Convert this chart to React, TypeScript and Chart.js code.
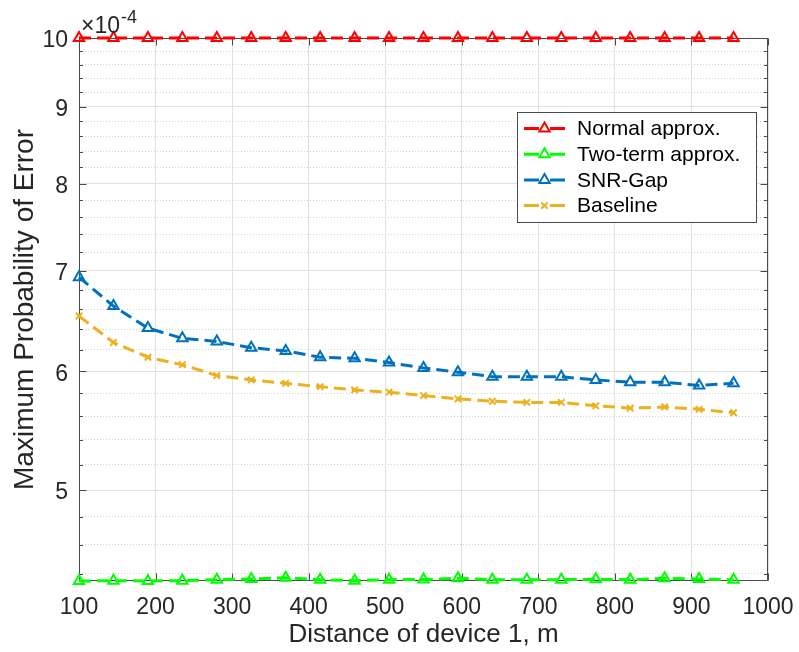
import React, { useEffect, useRef } from 'react';
import { Chart, registerables } from 'chart.js';

Chart.register(...registerables);

// Distance of device 1 (m)
const distances = [100, 145, 190, 235, 280, 325, 370, 415, 460, 505, 550, 595, 640, 685, 730, 775, 820, 865, 910, 955];
// Maximum probability of error, in units of 1e-4
const normalApprox = [10, 10, 10, 10, 10, 10, 10, 10, 10, 10, 10, 10, 10, 10, 10, 10, 10, 10, 10, 10];
const twoTermApprox = [4.350, 4.352, 4.350, 4.352, 4.359, 4.363, 4.372, 4.359, 4.352, 4.359, 4.360, 4.368, 4.359, 4.359, 4.359, 4.361, 4.359, 4.368, 4.363, 4.359];
const snrGap = [6.93, 6.63, 6.41, 6.31, 6.28, 6.22, 6.19, 6.13, 6.12, 6.08, 6.03, 5.99, 5.95, 5.95, 5.95, 5.92, 5.90, 5.90, 5.87, 5.89];
const baseline = [6.53, 6.27, 6.13, 6.06, 5.96, 5.92, 5.89, 5.86, 5.83, 5.81, 5.78, 5.75, 5.73, 5.72, 5.72, 5.69, 5.67, 5.68, 5.66, 5.63];

const seriesLabels = ['Normal approx.', 'Two-term approx.', 'SNR-Gap', 'Baseline'];
const seriesColors = ['#FF0000', '#00FF00', '#0072BD', '#EDB120'];
const seriesMarkers = ['triangle', 'triangle', 'triangle', 'crossRot'];

const xTickValues = [100, 200, 300, 400, 500, 600, 700, 800, 900, 1000];
const yMajorTicks = [5, 6, 7, 8, 9, 10];
const yGridTicks = [4.4, 4.6, 4.8, 5, 5.2, 5.4, 5.6, 5.8, 6, 6.2, 6.4, 6.6, 6.8, 7, 7.2, 7.4, 7.6, 7.8, 8, 8.2, 8.4, 8.6, 8.8, 9, 9.2, 9.4, 9.6, 9.8, 10];
const yMin = 4.35;
const yMax = 10;

const FONT = '"Liberation Sans", Arial, Helvetica, sans-serif';
const TEXT = '#262626';

const isMajorY = (v: number) => yMajorTicks.some((m) => Math.abs(m - v) < 1e-6);

function drawMarker(ctx: CanvasRenderingContext2D, style: string, x: number, y: number, r: number, color: string, lw: number) {
  ctx.save();
  ctx.strokeStyle = color;
  ctx.lineWidth = lw;
  ctx.setLineDash([]);
  ctx.beginPath();
  if (style === 'triangle') {
    ctx.moveTo(x, y - r);
    ctx.lineTo(x + r * 0.866, y + r * 0.5);
    ctx.lineTo(x - r * 0.866, y + r * 0.5);
    ctx.closePath();
  } else {
    const d = r * 0.707;
    ctx.moveTo(x - d, y - d);
    ctx.lineTo(x + d, y + d);
    ctx.moveTo(x + d, y - d);
    ctx.lineTo(x - d, y + d);
  }
  ctx.stroke();
  ctx.restore();
}

const boxPlugin = {
  id: 'matlabBox',
  beforeDatasetsDraw(chart: any) {
    const { ctx, chartArea } = chart;
    const { left, right, top, bottom } = chartArea;
    const xs = chart.scales.x;
    const ys = chart.scales.y;
    ctx.save();
    ctx.strokeStyle = '#4a4a4a';
    ctx.lineWidth = 1;
    ctx.setLineDash([]);
    const L = Math.round(left) + 0.5;
    const R = Math.round(right) - 0.5;
    const T = Math.round(top) + 0.5;
    const B = Math.round(bottom) - 0.5;
    ctx.beginPath();
    ctx.rect(L, T, R - L, B - T);
    ctx.stroke();
    ctx.beginPath();
    xs.ticks.forEach((t: any) => {
      const px = Math.round(xs.getPixelForValue(t.value)) + 0.5;
      ctx.moveTo(px, B);
      ctx.lineTo(px, B - 7);
      ctx.moveTo(px, T);
      ctx.lineTo(px, T + 7);
    });
    ys.ticks.forEach((t: any) => {
      const py = Math.round(ys.getPixelForValue(t.value)) + 0.5;
      const len = isMajorY(t.value) ? 7 : 3.5;
      ctx.moveTo(L, py);
      ctx.lineTo(L + len, py);
      ctx.moveTo(R, py);
      ctx.lineTo(R - len, py);
    });
    ctx.stroke();
    ctx.restore();
  },
  afterDraw(chart: any) {
    const { ctx, chartArea } = chart;
    ctx.save();
    ctx.fillStyle = TEXT;
    ctx.textBaseline = 'alphabetic';
    ctx.textAlign = 'left';
    ctx.font = `23px ${FONT}`;
    const base = '\u00D710';
    const x0 = chartArea.left + 2;
    ctx.fillText(base, x0, 33);
    const w = ctx.measureText(base).width;
    ctx.font = `18px ${FONT}`;
    ctx.fillText('-4', x0 + w + 1, 23);
    ctx.restore();

    const bx = 517.5, by = 112.5, bw = 239, bh = 110;
    ctx.save();
    ctx.fillStyle = '#ffffff';
    ctx.fillRect(bx, by, bw, bh);
    ctx.strokeStyle = '#4a4a4a';
    ctx.lineWidth = 1;
    ctx.strokeRect(bx, by, bw, bh);
    const rowH = 25.7;
    const firstY = 128.5;
    chart.data.datasets.forEach((ds: any, i: number) => {
      const y = firstY + i * rowH;
      ctx.save();
      ctx.strokeStyle = ds.borderColor;
      ctx.lineWidth = 3;
      ctx.beginPath();
      ctx.moveTo(524, y);
      ctx.lineTo(539, y);
      ctx.moveTo(550, y);
      ctx.lineTo(565, y);
      ctx.stroke();
      ctx.restore();
      drawMarker(ctx, ds.pointStyle, 544.5, y, ds.pointStyle === 'triangle' ? 6 : 4.5, ds.borderColor, 2);
      ctx.fillStyle = '#000000';
      ctx.font = `21px ${FONT}`;
      ctx.textBaseline = 'middle';
      ctx.textAlign = 'left';
      ctx.fillText(ds.label, 577, y + 1);
    });
    ctx.restore();
  },
};

const seriesValues = [normalApprox, twoTermApprox, snrGap, baseline];

export default function App() {
  const ref = useRef<HTMLCanvasElement>(null);
  useEffect(() => {
    const datasets = seriesValues.map((vals, i) => ({
      label: seriesLabels[i],
      data: distances.map((d, j) => ({ x: d, y: vals[j] })),
      borderColor: seriesColors[i],
      backgroundColor: 'transparent',
      borderWidth: 3,
      borderDash: [12, 6],
      pointStyle: seriesMarkers[i],
      pointRadius: seriesMarkers[i] === 'triangle' ? 6 : 4.5,
      pointBorderWidth: 2,
      pointBorderColor: seriesColors[i],
      pointBackgroundColor: 'transparent',
      fill: false,
      tension: 0,
      clip: false as any,
    }));
    const chart = new Chart(ref.current!, {
      type: 'line',
      data: { datasets },
      plugins: [boxPlugin],
      options: {
        animation: false,
        responsive: true,
        maintainAspectRatio: false,
        devicePixelRatio: 1,
        layout: { padding: { left: 0, right: 31, top: 38, bottom: 0 } },
        plugins: { legend: { display: false }, tooltip: { enabled: false } },
        scales: {
          x: {
            type: 'linear',
            min: 100,
            max: 1000,
            afterBuildTicks: (s: any) => {
              s.ticks = xTickValues.map((v) => ({ value: v }));
            },
            afterFit: (s: any) => {
              s.height = 71;
              s.paddingLeft = 0;
              s.paddingRight = 0;
            },
            ticks: {
              autoSkip: false,
              maxRotation: 0,
              padding: 13,
              color: TEXT,
              font: { family: FONT, size: 23 },
              callback: (v: any) => String(v),
            },
            grid: { color: '#e0e0e0', lineWidth: 1, drawTicks: false },
            border: { display: false },
            title: {
              display: true,
              text: 'Distance of device 1, m',
              color: TEXT,
              font: { family: FONT, size: 26 },
              padding: { top: 0, bottom: 2 },
            },
          },
          y: {
            type: 'logarithmic',
            min: yMin,
            max: yMax,
            afterBuildTicks: (s: any) => {
              s.ticks = yGridTicks.map((v) => ({ value: v }));
            },
            afterFit: (s: any) => {
              s.width = 79;
              s.paddingTop = 0;
              s.paddingBottom = 0;
            },
            ticks: {
              autoSkip: false,
              padding: 11,
              labelOffset: 3,
              color: TEXT,
              font: { family: FONT, size: 23 },
              callback: (v: any) => (isMajorY(Number(v)) ? String(Math.round(Number(v))) : ''),
            },
            grid: {
              drawTicks: false,
              lineWidth: 1,
              color: (c: any) => (c.tick && !isMajorY(c.tick.value) ? '#d2d2d2' : '#e0e0e0'),
            },
            border: {
              display: false,
              dash: (c: any) => (c.tick && !isMajorY(c.tick.value) ? [1, 2] : []),
            },
            title: {
              display: true,
              text: 'Maximum Probability of Error',
              color: TEXT,
              font: { family: FONT, size: 28 },
              padding: { top: 8, bottom: 0 },
            },
          },
        },
      } as any,
    });
    return () => chart.destroy();
  }, []);
  return (
    <div style={{ position: 'fixed', left: 0, top: 0, width: 799, height: 652, background: '#ffffff' }}>
      <canvas ref={ref} />
    </div>
  );
}
